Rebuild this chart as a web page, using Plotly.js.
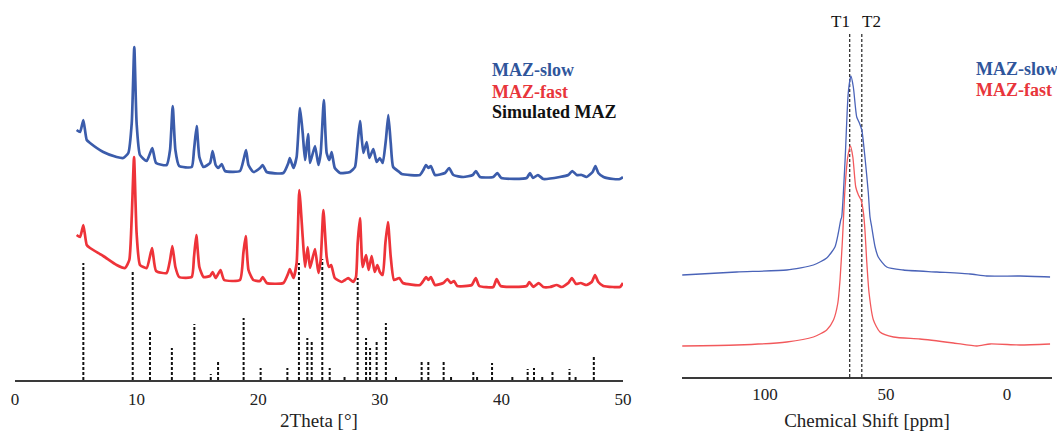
<!DOCTYPE html>
<html>
<head>
<meta charset="utf-8">
<script src="https://cdn.plot.ly/plotly-3.0.1.min.js"></script>
<style>html,body{margin:0;padding:0;background:#fff;}#chart{width:1057px;height:431px;}</style>
</head>
<body>
<div id="chart"></div>
<script>
// ---------- XRD data (2Theta in degrees, intensity in arbitrary units, offset stacked) ----------
const xrdSlow2Theta = [5.07,5.35,5.62,5.9,6.17,7.26,8.36,8.9,9.32,9.6,9.81,10.0,10.28,10.83,11.29,11.6,12.47,12.75,12.97,13.19,13.5,14.53,14.72,14.94,15.16,15.5,16.04,16.25,16.5,16.72,17.0,17.27,18.5,18.83,19.0,19.2,19.6,20.15,20.37,20.7,22.07,22.48,22.6,22.9,23.16,23.44,23.66,23.85,24.1,24.26,24.67,24.95,25.14,25.4,25.63,25.85,26.04,26.3,26.73,27.55,27.96,28.15,28.37,28.65,28.92,29.14,29.47,29.74,30.0,30.24,30.5,30.7,30.9,31.1,31.6,31.8,33.3,33.58,33.8,34.0,34.2,34.54,35.36,35.7,36.05,36.87,37.64,37.9,38.24,39.33,39.67,40.0,42.08,42.35,42.6,43.0,43.45,44.8,45.5,45.83,46.2,46.6,47.0,47.5,47.73,47.97,48.4,49.2,49.75,50.0];
const xrdSlowIntensity = [250,248,260,240,237,228,223,222,227,257,333,257,225,219,232,217,215,230,274,230,214,213,230,254,223,213,217,229,215,212,216,209,209,222,230,215,208,212,215,208,207,217,222,212,223,272,247,220,246,217,234,215,227,280,227,220,228,212,207,208,213,233,259,227,238,222,231,218,222,217,240,265,237,213,208,206,205,210,215,212,214,205,207,212,205,203,205,209,203,203,207,202,202,207,202,205,201,203,205,209,205,205,203,208,214,207,203,201,201,203];

const xrdFast2Theta = [5.07,5.35,5.62,5.9,6.17,7.26,8.36,9.05,9.4,9.6,9.79,10.0,10.28,10.83,11.27,11.6,12.47,12.75,12.94,13.19,13.5,14.53,14.72,14.91,15.16,15.5,16.04,16.25,16.5,16.9,17.2,18.5,18.78,18.97,19.2,19.6,20.15,20.37,20.7,22.07,22.48,22.6,22.9,23.16,23.38,23.66,23.85,24.07,24.26,24.67,24.95,25.14,25.36,25.63,25.82,26.0,26.3,26.87,27.14,27.4,27.82,28.04,28.18,28.37,28.59,28.87,29.08,29.33,29.58,29.8,30.0,30.24,30.46,30.67,30.9,31.17,31.6,31.9,33.3,33.63,33.8,34.0,34.2,34.54,35.22,35.56,35.83,36.1,36.37,37.56,37.89,38.18,39.33,39.61,39.94,42.08,42.3,42.62,43.07,43.45,44.0,44.55,44.96,45.5,45.8,46.13,46.52,47.0,47.43,47.7,47.97,48.38,49.2,49.75,50.0];
const xrdFastIntensity = [145,143,155,135,132,124,115,112,120,163,223,147,115,112,132,109,107,120,134,113,103,103,123,145,113,103,104,108,102,110,100,100,127,144,110,100,99,103,97,97,107,111,102,117,190,143,113,133,112,131,107,120,170,123,113,115,102,98,100,102,98,103,137,162,113,125,110,124,108,115,108,105,137,158,123,100,102,97,95,100,103,100,103,95,97,101,97,99,94,95,102,94,93,101,94,94,98,93,97,93,93,95,93,97,102,96,97,95,98,105,98,94,93,93,97];

const simPeak2Theta = [5.62,9.68,11.1,12.9,14.75,16.1,16.7,18.8,20.2,22.4,23.35,24.04,24.4,25.27,25.88,27.1,28.18,28.87,29.2,29.74,30.5,31.33,33.44,33.99,35.25,35.86,37.69,38.0,39.23,40.9,42.16,42.68,43.36,44.2,45.6,46.1,47.6];
const simPeakIntensity = [117,110,49,32,56,6,20,62,12,12,117,42,40,121,12,4,102,42,32,40,57,5,18,20,20,5,10,5,17,5,11,12,5,10,11,5,25];

const xrdTicks = [0,10,20,30,40,50];
const xrdLegend = ['MAZ-slow','MAZ-fast','Simulated MAZ'];

// ---------- NMR data (chemical shift in ppm) ----------
const nmrSlowShift = [134.2,111.7,91.0,80.0,74.5,71.1,69.7,68.7,68.3,66.9,65.6,64.5,63.5,62.1,61.0,60.0,58.7,57.3,56.6,55.9,54.5,53.2,49.7,42.8,29.0,15.3,8.4,-5.4,-17.8];
const nmrSlowIntensity = [102,105,107,112,119,130,144,157,160,217,284,301,290,260,254,247,220,184,160,150,130,120,110,107,105,103,101,101,100];
const nmrFastShift = [134.2,111.7,91.0,80.0,74.5,71.7,69.9,69.0,68.0,67.6,66.9,65.8,64.7,63.7,62.5,61.4,60.3,59.3,58.7,58.0,57.0,55.2,52.5,46.9,36.0,22.1,12.4,7.0,-5.4,-17.8];
const nmrFastIntensity = [31,32,35,40,47,57,74,97,137,157,190,220,231,220,190,182,177,164,147,117,84,57,45,40,38,34,31,33,32,33];
const nmrRefShift = [65, 60];
const nmrRefLabels = ['T1','T2'];
const nmrTicks = [100,50,0];
const nmrLegend = ['MAZ-slow','MAZ-fast'];

// ---------- styles ----------
const BLUE = '#3b5cab', RED = '#ee3339', NMR_BLUE = '#4a63b8', NMR_RED = '#f2595c';
const LEG_BLUE = '#2f559b', LEG_RED = '#e8353b';
const SERIF = '"Liberation Serif", "DejaVu Serif", serif';
const W = 1057, H = 431;

// stick pattern
const stickX = [], stickY = [];
simPeak2Theta.forEach((t, i) => { stickX.push(t, t, null); stickY.push(0, simPeakIntensity[i], null); });
const refX = [], refY = [];
nmrRefShift.forEach(s => { refX.push(s, s, null); refY.push(0, 344, null); });

const traces = [
  {x: stickX, y: stickY, xaxis: 'x', yaxis: 'y', mode: 'lines', line: {color: '#111', width: 2, dash: '3px,2px'}, hoverinfo: 'skip'},
  {x: xrdFast2Theta, y: xrdFastIntensity, xaxis: 'x', yaxis: 'y', mode: 'lines', line: {color: RED, width: 2.7, shape: 'spline', smoothing: 0.5}},
  {x: xrdSlow2Theta, y: xrdSlowIntensity, xaxis: 'x', yaxis: 'y', mode: 'lines', line: {color: BLUE, width: 2.7, shape: 'spline', smoothing: 0.5}},
  {x: refX, y: refY, xaxis: 'x2', yaxis: 'y2', mode: 'lines', line: {color: '#222', width: 1.2, dash: '3px,2px'}, hoverinfo: 'skip'},
  {x: nmrFastShift, y: nmrFastIntensity, xaxis: 'x2', yaxis: 'y2', mode: 'lines', line: {color: NMR_RED, width: 1.3, shape: 'spline', smoothing: 0.6}},
  {x: nmrSlowShift, y: nmrSlowIntensity, xaxis: 'x2', yaxis: 'y2', mode: 'lines', line: {color: NMR_BLUE, width: 1.3, shape: 'spline', smoothing: 0.6}}
];

const annotations = [];
const legColorsL = [LEG_BLUE, LEG_RED, '#111'];
const legYL = [70, 92, 112];
xrdLegend.forEach((t, i) => annotations.push({
  xref: 'paper', yref: 'paper', x: 490 / W, y: 1 - legYL[i] / H, xanchor: 'left', yanchor: 'middle',
  text: '<b>' + t + '</b>', showarrow: false, font: {family: SERIF, size: 18, color: legColorsL[i]}
}));
const legColorsR = [LEG_BLUE, LEG_RED];
const legYR = [69, 90];
nmrLegend.forEach((t, i) => annotations.push({
  xref: 'paper', yref: 'paper', x: 974 / W, y: 1 - legYR[i] / H, xanchor: 'left', yanchor: 'middle',
  text: '<b>' + t + '</b>', showarrow: false, font: {family: SERIF, size: 18, color: legColorsR[i]}
}));
nmrRefLabels.forEach((t, i) => annotations.push({
  xref: 'x2', yref: 'paper', x: nmrRefShift[i], y: 1 - 21 / H,
  xanchor: i === 0 ? 'right' : 'left', yanchor: 'middle', xshift: i === 0 ? 2 : -2,
  text: t, showarrow: false, font: {family: SERIF, size: 17, color: '#111'}
}));

const axisCommon = {
  showline: true, linecolor: '#3a3a3a', linewidth: 1.8, ticks: '', showgrid: false, zeroline: false,
  tickfont: {family: SERIF, size: 17, color: '#222'}, automargin: false, fixedrange: true, ticklabelstandoff: 3
};

const layout = {
  width: W, height: H, margin: {l: 0, r: 0, t: 0, b: 0}, paper_bgcolor: '#fff', plot_bgcolor: 'rgba(0,0,0,0)',
  showlegend: false,
  xaxis: Object.assign({}, axisCommon, {
    domain: [15 / W, 623 / W], range: [0, 50], anchor: 'y', tickvals: xrdTicks, ticktext: xrdTicks.map(String),
    title: {text: '2Theta [°]', font: {family: SERIF, size: 19, color: '#222'}, standoff: 12}
  }),
  yaxis: {domain: [(H - 380) / H, (H - 30) / H], range: [0, 350], visible: false, fixedrange: true},
  xaxis2: Object.assign({}, axisCommon, {
    domain: [682 / W, 1052 / W], range: [134.3, -18.6], anchor: 'y2', tickvals: nmrTicks, ticktext: nmrTicks.map(String),
    ticklabelstandoff: 1,
    title: {text: 'Chemical Shift [ppm]', font: {family: SERIF, size: 19, color: '#222'}, standoff: 13}
  }),
  yaxis2: {domain: [(H - 377) / H, (H - 30) / H], range: [0, 347], visible: false, fixedrange: true},
  annotations: annotations
};

Plotly.newPlot('chart', traces, layout, {staticPlot: true, displayModeBar: false});
</script>
</body>
</html>
